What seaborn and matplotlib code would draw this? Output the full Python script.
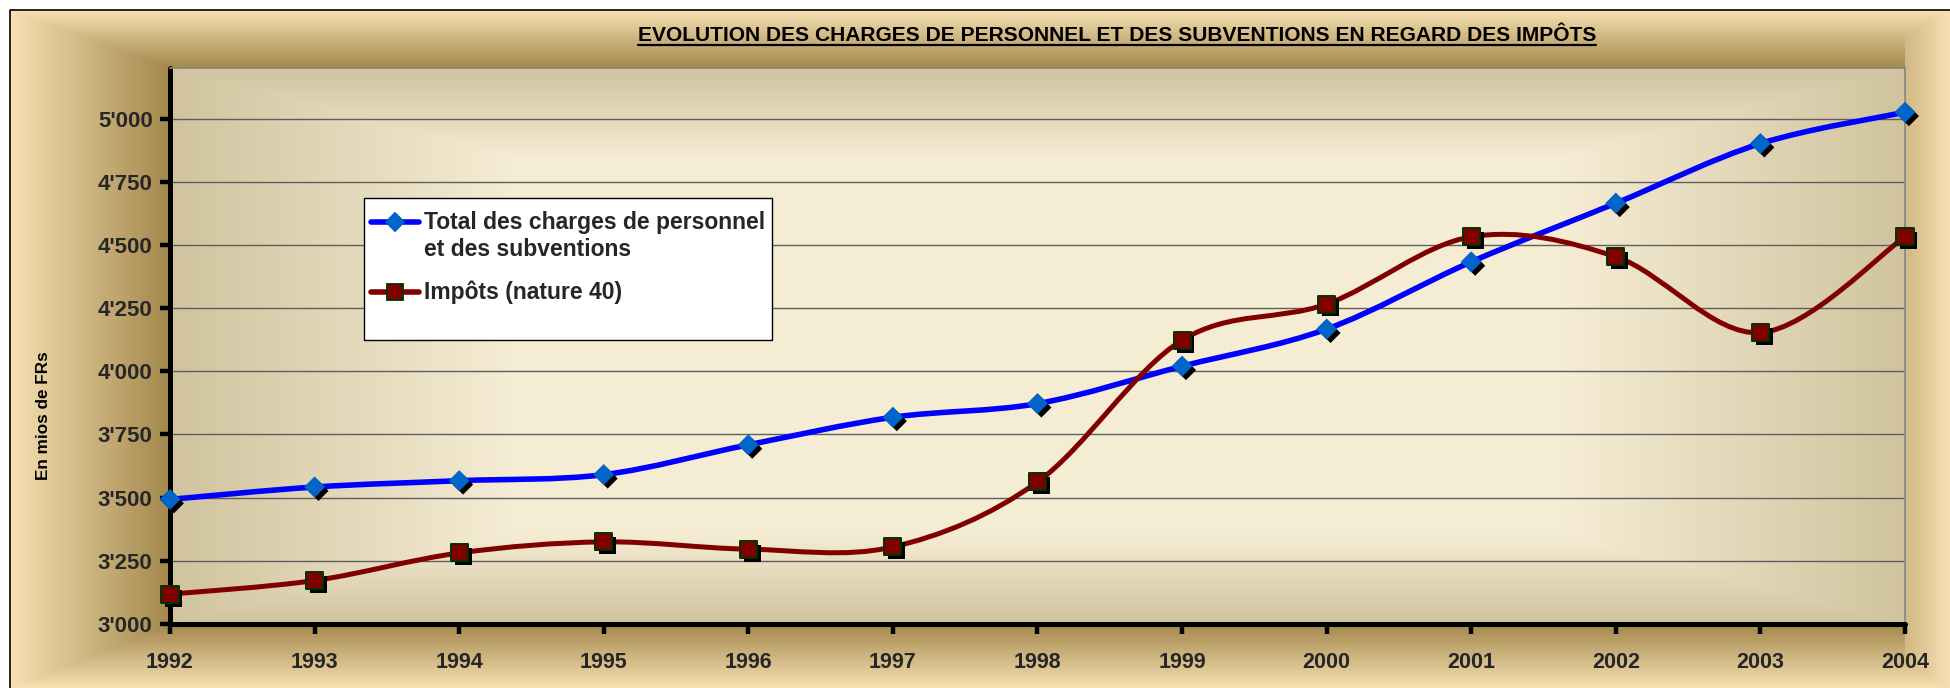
import numpy as np
import pandas as pd
import seaborn as sns
import matplotlib.pyplot as plt
import matplotlib.patheffects as pe
from matplotlib.path import Path
from matplotlib.patches import PathPatch, Rectangle
from matplotlib.lines import Line2D

# données (en mios de FRs)
annees = [1992, 1993, 1994, 1995, 1996, 1997, 1998, 1999, 2000, 2001, 2002, 2003, 2004]
charges = [3493, 3542, 3567, 3591, 3709, 3818, 3872, 4020, 4167, 4433, 4665, 4901, 5025]
impots = [3118, 3172, 3281, 3325, 3296, 3305, 3562, 4123, 4266, 4532, 4453, 4153, 4532]
y_ticks = [3000, 3250, 3500, 3750, 4000, 4250, 4500, 4750, 5000]
y_labels = ["3'000", "3'250", "3'500", "3'750", "4'000", "4'250", "4'500", "4'750", "5'000"]
titre = "EVOLUTION DES CHARGES DE PERSONNEL ET DES SUBVENTIONS EN REGARD DES IMPÔTS"
noms = ["Total des charges de personnel\net des subventions", "Impôts (nature 40)"]
unite = "En mios de FRs"

W, H = 1950, 688
L, R, T, B = 170, 1905, 68, 624   # zone de traçage en pixels

sns.set_theme(style="white")
plt.rcParams["font.family"] = ["Liberation Sans", "DejaVu Sans"]

fig = plt.figure(figsize=(W / 100, H / 100), dpi=100)

# fond dégradé (zone du graphique + zone de traçage)
yy, xx = np.mgrid[0:H, 0:W] + 0.5
tl = np.clip((L - xx) / (L - 10), 0, 1)
tt = np.clip((T - yy) / (T - 10), 0, 1)
tb = np.clip((yy - B) / (H - B), 0, 1)
tr = np.where(xx > R, 0.55 + 0.45 * (xx - R) / (W - R), 0)
t = np.maximum.reduce([tl, tt, tb, tr])
sombre = np.array([163, 136, 76]) / 255
clair = np.array([247, 225, 179]) / 255
img = sombre + (clair - sombre) * t[..., None]

hw, hh = (R - L) / 2, (B - T) / 2
gx = np.clip((np.abs(xx - (L + R) / 2) - (hw - 340)) / 340, 0, 1)
gy = np.clip((np.abs(yy - (T + B) / 2) - (hh - 90)) / 90, 0, 1)
g = np.maximum(gx, gy)
pale = np.array([245, 236, 212]) / 255
bord = np.array([208, 195, 158]) / 255
dedans = (xx >= L) & (xx <= R) & (yy >= T) & (yy <= B)
img[dedans] = (pale + (bord - pale) * g[..., None])[dedans]
img[(xx < 10) | (yy < 10)] = 1.0

bg = fig.add_axes([0, 0, 1, 1], zorder=-10)
bg.imshow(img, extent=[0, W, H, 0], aspect="auto", interpolation="bilinear")
bg.plot([10, 10, W], [H, 10, 10], color="black", lw=1.2)
bg.set_xlim(0, W)
bg.set_ylim(H, 0)
bg.axis("off")

ax = fig.add_axes([L / W, 1 - B / H, (R - L) / W, (B - T) / H])
ax.set_facecolor("none")


def courbe(x, y):
    # lissage type Excel (Catmull-Rom en Bézier)
    x = np.asarray(x, float)
    y = np.asarray(y, float)
    px = np.r_[x[0], x, x[-1]]
    py = np.r_[y[0], y, y[-1]]
    verts = [(x[0], y[0])]
    codes = [Path.MOVETO]
    for i in range(len(x) - 1):
        c1 = (x[i] + (px[i + 2] - px[i]) / 6, y[i] + (py[i + 2] - py[i]) / 6)
        c2 = (x[i + 1] - (px[i + 3] - px[i + 1]) / 6, y[i + 1] - (py[i + 3] - py[i + 1]) / 6)
        verts += [c1, c2, (x[i + 1], y[i + 1])]
        codes += [Path.CURVE4] * 3
    return Path(verts, codes)


ax.add_patch(PathPatch(courbe(annees, charges), facecolor="none", edgecolor="#0000FF",
                       lw=4.0, capstyle="round", zorder=3))
ax.add_patch(PathPatch(courbe(annees, impots), facecolor="none", edgecolor="#800000",
                       lw=3.6, capstyle="round", zorder=3))

ombre = [pe.SimplePatchShadow(offset=(2.8, -2.8), shadow_rgbFace="black", alpha=1), pe.Normal()]
sns.scatterplot(x=annees, y=charges, marker="D", s=105, color="#0066CC", edgecolor="#0060C0",
                linewidth=0.5, zorder=5, ax=ax)
sns.scatterplot(x=annees, y=impots, marker="s", s=150, color="#800000", edgecolor="#003300",
                linewidth=1.4, zorder=5, ax=ax)
for c in ax.collections:
    c.set_path_effects(ombre)
    c.set_clip_on(False)

ax.set_xlim(annees[0], annees[-1])
ax.set_ylim(3000, 5200)
ax.set_xticks(annees)
ax.set_xticklabels([str(a) for a in annees], fontweight="bold", fontsize=15.5)
ax.set_yticks(y_ticks)
ax.set_yticklabels(y_labels, fontweight="bold", fontsize=16)
ax.tick_params(axis="x", direction="out", length=7, width=3.2, color="black", pad=13, bottom=True)
ax.tick_params(axis="y", direction="out", length=7, width=3.2, color="black", pad=5.5, left=True)
ax.yaxis.grid(True, color="#5e5e5e", lw=1.0)
ax.xaxis.grid(False)
ax.set_axisbelow(True)
for s in ["left", "bottom"]:
    ax.spines[s].set_color("black")
    ax.spines[s].set_linewidth(3.6)
    ax.spines[s].set_capstyle("round")
for s in ["top", "right"]:
    ax.spines[s].set_color("#858585")
    ax.spines[s].set_linewidth(1.2)

fig.text(43 / W, 1 - 416 / H, unite, rotation=90, ha="center", va="center",
         fontsize=12.3, fontweight="bold", color="black")

# titre souligné
tx = fig.text(1117 / W, 1 - 41 / H, titre, ha="center", va="baseline", fontsize=15.1,
              fontweight="bold", color="black")
fig.canvas.draw()
bb = tx.get_window_extent()
fig.add_artist(Line2D([bb.x0 / W, bb.x1 / W], [1 - 44.5 / H, 1 - 44.5 / H], color="black",
                      lw=1.6, transform=fig.transFigure))

# légende
fig.add_artist(Rectangle((364 / W, 1 - 340 / H), (772 - 364) / W, (340 - 198) / H,
                         transform=fig.transFigure, facecolor="white", edgecolor="black",
                         lw=1.0, zorder=20))
for yp, col, mk, fc, ec, ms in [(222, "#0000FF", "D", "#0066CC", "#0060C0", 9.5),
                                 (292, "#800000", "s", "#800000", "#003300", 11)]:
    fig.add_artist(Line2D([371 / W, 419 / W], [1 - yp / H] * 2, color=col, lw=4.0,
                          solid_capstyle="round", transform=fig.transFigure, zorder=21))
    fig.add_artist(Line2D([395 / W], [1 - yp / H], marker=mk, markersize=ms, markerfacecolor=fc,
                          markeredgecolor=ec, markeredgewidth=1.3, transform=fig.transFigure,
                          zorder=22))
lignes = noms[0].split("\n")
fig.text(424 / W, 1 - 222 / H, lignes[0], ha="left", va="center", fontsize=16.5,
         fontweight="bold", zorder=23)
fig.text(424 / W, 1 - 250 / H, lignes[1], ha="left", va="center", fontsize=16.5,
         fontweight="bold", zorder=23)
fig.text(424 / W, 1 - 292 / H, noms[1], ha="left", va="center", fontsize=16.5,
         fontweight="bold", zorder=23)

fig.savefig("out.png", dpi=100)
